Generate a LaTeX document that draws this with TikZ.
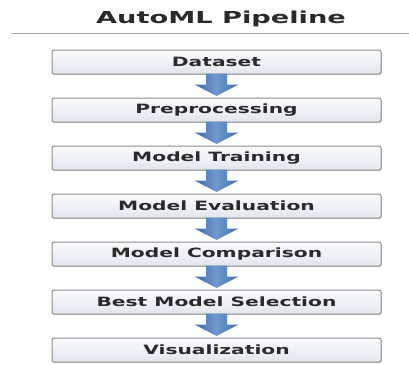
\documentclass[tikz,border=0pt]{standalone}
\usepackage{fontspec}
\setmainfont{DejaVu Sans}
\newfontfamily\titlefont[FakeStretch=1.65]{DejaVu Sans Bold}
\newfontfamily\boxfont[FakeStretch=1.58]{DejaVu Sans Bold}
\usetikzlibrary{calc,shadows}
\definecolor{boxtop}{HTML}{FBFCFE}
\definecolor{boxbot}{HTML}{E1E5EC}
\definecolor{boxedge}{HTML}{8C8C8C}
\definecolor{txt}{HTML}{2A2A2A}
\definecolor{arrmid}{HTML}{6E9AD0}
\definecolor{arredge}{HTML}{3F6DA6}
\tikzset{
  stage/.style={draw=boxedge, line width=1pt, rounded corners=2pt,
    top color=boxtop, bottom color=boxbot,
    minimum width=329pt, minimum height=24pt, inner sep=0pt,
    font=\boxfont\fontsize{12.8}{14}\selectfont, text=txt,
    drop shadow={shadow xshift=0.8pt, shadow yshift=-0.8pt, opacity=0.35}},
  flow/.style={left color=arredge, right color=arredge, middle color=arrmid, draw=none}
}
% block arrow from the bottom of one stage to the top of the next
\newcommand\blockarrow[2]{%
  \path[flow] ($(#1.south)+(-10.5pt,1pt)$) -- ($(#1.south)+(10.5pt,1pt)$)
    -- ($(#1.south)+(10.5pt,-10pt)$) -- ($(#1.south)+(22pt,-10pt)$)
    -- ($(#2.north)+(0,1.5pt)$)
    -- ($(#1.south)+(-22pt,-10pt)$) -- ($(#1.south)+(-10.5pt,-10pt)$) -- cycle;}
\begin{document}
\begin{tikzpicture}[x=1pt,y=-1pt]
\useasboundingbox[fill=white] (0,0) rectangle (409,364);
\node[font=\titlefont\fontsize{16.5}{18}\selectfont, text=txt] (title) at (221,19) {AutoML Pipeline};
\coordinate (ruleL) at (11,33);
\coordinate (ruleR) at (409,33);
\draw[gray!70, line width=0.8pt] (ruleL) -- (ruleR);
\node[stage] (s1) at (216.5,62)  {Dataset};
\node[stage] (s2) at (216.5,110) {Preprocessing};
\node[stage] (s3) at (216.5,158) {Model Training};
\node[stage] (s4) at (216.5,206) {Model Evaluation};
\node[stage] (s5) at (216.5,254) {Model Comparison};
\node[stage] (s6) at (216.5,302) {Best Model Selection};
\node[stage] (s7) at (216.5,350) {Visualization};
\blockarrow{s1}{s2}
\blockarrow{s2}{s3}
\blockarrow{s3}{s4}
\blockarrow{s4}{s5}
\blockarrow{s5}{s6}
\blockarrow{s6}{s7}
\end{tikzpicture}
\end{document}
